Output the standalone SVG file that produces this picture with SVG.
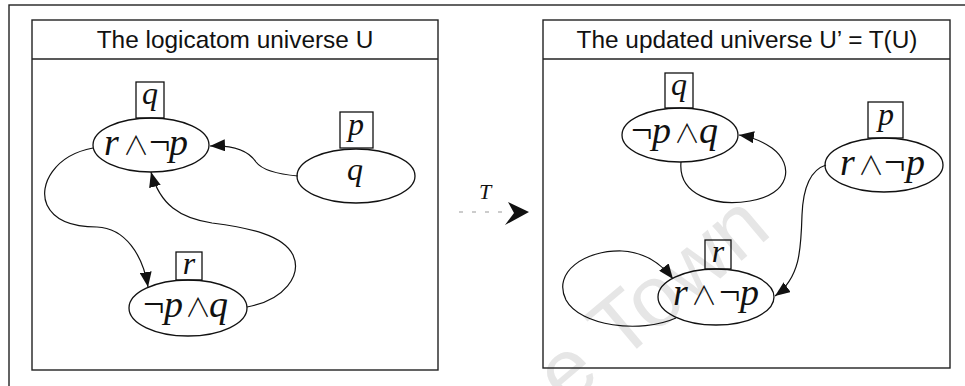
<svg xmlns="http://www.w3.org/2000/svg" width="965" height="386" viewBox="0 0 965 386">
<defs>
<style>
.frame{fill:none;stroke:#222;stroke-width:1.4}
.node{fill:none;stroke:#111;stroke-width:1.3}
.edge{fill:none;stroke:#111;stroke-width:1.2}
.title{font-family:"Liberation Sans",Arial,sans-serif;font-size:24.4px;fill:#111;text-anchor:middle}
.math{font-family:"Liberation Serif","Times New Roman",serif;font-size:38px;fill:#111}
.lab{font-family:"Liberation Serif","Times New Roman",serif;font-size:32px;font-style:italic;fill:#111;text-anchor:middle}
.it{font-style:italic}
.op{font-family:"Noto Sans CJK JP","DejaVu Sans",sans-serif;font-size:26px;font-weight:300;font-style:normal}
.wm{font-family:"Liberation Sans",Arial,sans-serif;font-size:86px;fill:#e6e6e6}
</style>
<marker id="ah" viewBox="0 0 10 8" refX="10" refY="4" markerWidth="15" markerHeight="12" markerUnits="userSpaceOnUse" orient="auto">
<path d="M0,0 L10,4 L0,8 z" fill="#111"/>
</marker>
</defs>
<rect width="965" height="386" fill="#fff"/>
<text class="wm" transform="translate(566,408) rotate(-40)">e Town</text>
<rect class="frame" x="9" y="5" width="980" height="400"/>

<g id="panel-left">
<rect class="frame" x="32" y="20" width="406" height="350"/>
<line class="frame" x1="32" y1="59" x2="438" y2="59"/>
<text class="title" x="235" y="48">The logicatom universe U</text>
</g>
<g id="panel-right">
<rect class="frame" x="543" y="20" width="407" height="348"/>
<line class="frame" x1="543" y1="59" x2="950" y2="59"/>
<text class="title" x="747" y="48">The updated universe U’ = T(U)</text>
</g>

<g id="connectors">
<path class="edge" marker-end="url(#ah)" d="M298,176 C275,174 262,170 256,162 C248,150 232,145 210,146"/>
<path class="edge" marker-end="url(#ah)" d="M93,148 C55,155 38,185 47,205 C55,222 75,227 97,227 C125,228 143,255 148,287"/>
<path class="edge" marker-end="url(#ah)" d="M247,307 C285,300 302,275 293,255 C283,235 250,228 212,223 C180,218 160,205 151,172"/>
<path class="edge" marker-end="url(#ah)" d="M681,162 C678,195 715,207 750,201 C790,195 795,165 772,148 C762,141 752,137 739,135"/>
<path class="edge" marker-end="url(#ah)" d="M826,165 C810,170 803,190 802,215 C801,250 800,278 775,296"/>
<path class="edge" marker-end="url(#ah)" d="M676,318 C640,334 580,326 566,300 C552,272 585,250 622,251 C642,252 660,262 673,279"/>
<line x1="459" y1="212" x2="505" y2="212" stroke="#999" stroke-width="1.2" stroke-dasharray="4,9"/>
<polygon points="508,202 529,212 505,225 514,213" fill="#111"/>
<text x="485" y="199" font-family="Liberation Serif,serif" font-style="italic" font-size="22" fill="#111" text-anchor="middle">T</text>
</g>

<g id="node-a">
<ellipse class="node" cx="151" cy="145" rx="58" ry="27"/>
<rect class="node" x="136" y="82" width="28" height="36"/>
<text class="lab" x="150" y="104">q</text>
<text class="math" y="155"><tspan x="104" class="it">r</tspan><tspan x="123" class="op">∧</tspan><tspan x="149">¬</tspan><tspan x="169" class="it">p</tspan></text>
</g>
<g id="node-b">
<ellipse class="node" cx="356" cy="176" rx="59" ry="27"/>
<rect class="node" x="340" y="112" width="33" height="36"/>
<text class="lab" x="356" y="135">p</text>
<text class="lab" x="355" y="180" font-size="34">q</text>
</g>
<g id="node-c">
<ellipse class="node" cx="188" cy="308" rx="59" ry="28"/>
<rect class="node" x="176" y="252" width="26" height="28"/>
<text class="lab" x="189" y="274">r</text>
<text class="math" y="317"><tspan x="143">¬</tspan><tspan x="164" class="it">p</tspan><tspan x="185" class="op">∧</tspan><tspan x="209" class="it">q</tspan></text>
</g>

<g id="node-d">
<ellipse class="node" cx="680" cy="135" rx="58" ry="27"/>
<rect class="node" x="665" y="73" width="28" height="35"/>
<text class="lab" x="679" y="95">q</text>
<text class="math" y="143"><tspan x="631">¬</tspan><tspan x="652" class="it">p</tspan><tspan x="674" class="op">∧</tspan><tspan x="699" class="it">q</tspan></text>
</g>
<g id="node-e">
<ellipse class="node" cx="884" cy="165" rx="59" ry="27"/>
<rect class="node" x="868" y="102" width="35" height="36"/>
<text class="lab" x="886" y="125">p</text>
<text class="math" y="175"><tspan x="840" class="it">r</tspan><tspan x="858" class="op">∧</tspan><tspan x="884">¬</tspan><tspan x="906" class="it">p</tspan></text>
</g>
<g id="node-f">
<ellipse class="node" cx="716" cy="297" rx="58" ry="28"/>
<rect class="node" x="705" y="240" width="26" height="29"/>
<text class="lab" x="718" y="262">r</text>
<text class="math" y="305"><tspan x="673" class="it">r</tspan><tspan x="691" class="op">∧</tspan><tspan x="719">¬</tspan><tspan x="740" class="it">p</tspan></text>
</g>
</svg>
